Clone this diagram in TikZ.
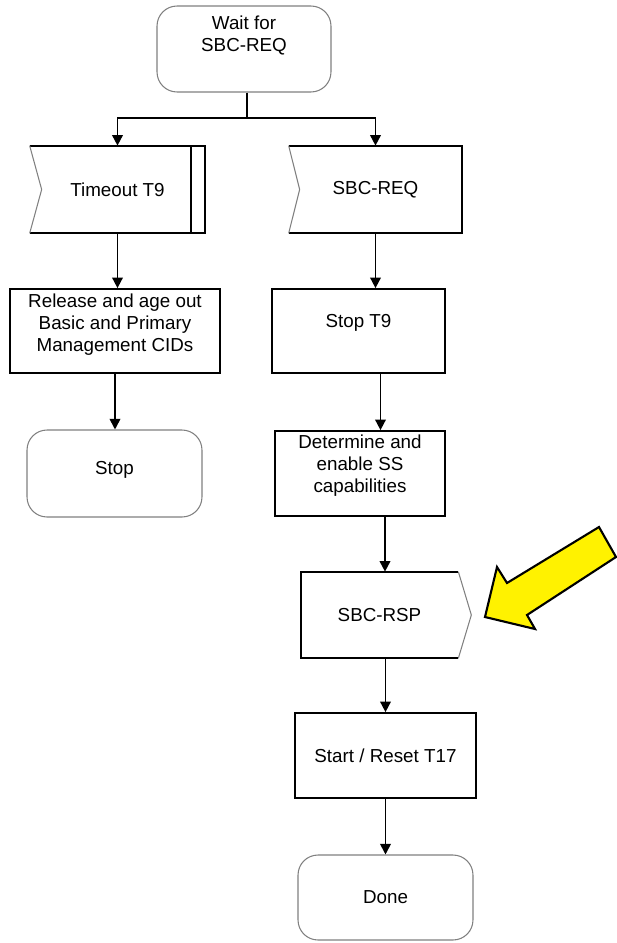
\documentclass[tikz,border=0pt]{standalone}
\usepackage{fontspec}
\setmainfont{Liberation Sans}
\usetikzlibrary{arrows.meta}

\begin{document}
\begin{tikzpicture}
    [x=0.02cm, y=-0.02cm,
    every node/.style={font=\fontsize{10.7}{12.5}\selectfont, align=center, inner sep=1pt},
    term/.style={draw=gray, line width=0.6pt, rounded corners=0.4cm, minimum width=3.5cm, minimum height=1.72cm},
    box/.style={draw, line width=1pt, minimum height=1.68cm},
    sig/.style={minimum height=1.74cm},
    flowline/.style={draw, line width=1pt},
    arr/.style={-{Triangle[length=6pt,width=6pt]}, line width=1pt},
    notch/.style={draw=gray, line width=0.6pt},
    hilite/.style={draw, fill=yellow, line width=1.2pt}]
    \useasboundingbox (0,0) rectangle (617,943);

    \node[term, minimum width=3.48cm, text depth=0.62cm] (wait) at (244,49) {Wait for\\SBC-REQ};
    \node[sig, minimum width=3.5cm] (t9) at (117.5,189.5) {Timeout T9};
    \node[sig, minimum width=3.46cm] (req) at (375.5,189.5) {SBC-REQ};
    \node[box, minimum width=4.2cm, text depth=0.32cm] (release) at (115,331) {Release and age out\\Basic and Primary\\Management CIDs};
    \node[box, minimum width=3.46cm, text depth=0.4cm] (stopt9) at (358.5,331) {Stop T9};
    \node[term, minimum height=1.74cm, text depth=0.24cm] (stop) at (114.5,473.5) {Stop};
    \node[box, minimum width=3.4cm, minimum height=1.7cm, text depth=0.4cm] (determine) at (360,473.5) {Determine and\\enable SS\\capabilities};
    \node[sig, minimum width=3.14cm, minimum height=1.72cm] (rsp) at (379.5,615) {SBC-RSP};
    \node[box, minimum width=3.62cm, minimum height=1.7cm] (start) at (385.5,755.5) {Start / Reset T17};
    \node[term, minimum height=1.7cm] (done) at (385.5,897.5) {Done};

    % signal shapes
    \draw[flowline] (t9.north west) -- (t9.north east) -- (t9.south east) -- (t9.south west);
    \draw[flowline] ([xshift=-0.28cm]t9.north east) -- ([xshift=-0.28cm]t9.south east);
    \draw[notch] (t9.north west) -- ([xshift=0.24cm]t9.west) -- (t9.south west);
    \draw[flowline] (req.north west) -- (req.north east) -- (req.south east) -- (req.south west);
    \draw[notch] (req.north west) -- ([xshift=0.22cm]req.west) -- (req.south west);
    \draw[flowline] (rsp.north east) -- (rsp.north west) -- (rsp.south west) -- (rsp.south east);
    \draw[notch] (rsp.north east) -- ([xshift=0.26cm]rsp.east) -- (rsp.south east);

    \coordinate (split) at (247,118);
    \draw[flowline] (wait.south -| split) -- (split);
    \draw[arr] (split) -| (t9.north);
    \draw[arr] (split) -| (req.north);
    \draw[arr] (t9.south) -- (t9.south |- release.north);
    \draw[arr] (release.south) -- (release.south |- stop.north);
    \draw[arr] (req.south) -- (req.south |- stopt9.north);
    \draw[arr] ([xshift=0.44cm]stopt9.south) -- ([xshift=0.44cm]stopt9.south |- determine.north);
    \draw[arr] ([xshift=0.5cm]determine.south) -- ([xshift=0.5cm]determine.south |- rsp.north);
    \draw[arr] (rsp.south -| start.north) -- (start.north);
    \draw[arr] (start.south) -- (done.north);

    % highlight
    \draw[hilite] (485,617) -- (497,567) -- (507,583) -- (599,527) -- (616,557) -- (527,615) -- (535,629) -- cycle;

  \end{tikzpicture}
\end{document}
